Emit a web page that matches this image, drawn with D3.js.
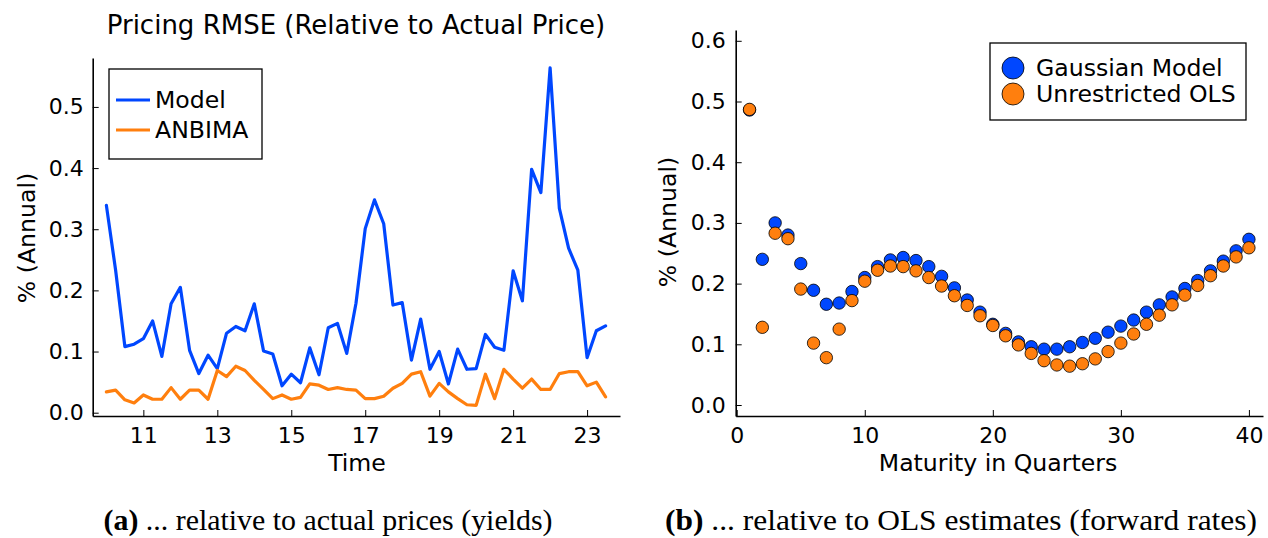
<!DOCTYPE html>
<html>
<head>
<meta charset="utf-8">
<script src="https://cdn.jsdelivr.net/npm/d3@7"></script>
<style>
  html, body { margin: 0; padding: 0; background: #ffffff; }
  svg { display: block; }
  text { font-family: "DejaVu Sans", sans-serif; fill: #000; }
  .caption { font-family: "Liberation Serif", "DejaVu Serif", serif; }
</style>
</head>
<body>
<svg id="fig" width="1268" height="538"></svg>
<script>
// ---- Panel (a): pricing RMSE over time (quarterly, 10.0 .. 23.5) ----
const timeStart = 10.0;
const timeStep = 0.25;
const modelRmse = [
  0.339, 0.233, 0.108, 0.112, 0.121, 0.150, 0.092, 0.178, 0.205, 0.102,
  0.064, 0.094, 0.072, 0.130, 0.141, 0.134, 0.178, 0.101, 0.096, 0.044,
  0.063, 0.049, 0.106, 0.062, 0.139, 0.146, 0.097, 0.179, 0.301, 0.348,
  0.309, 0.176, 0.180, 0.086, 0.153, 0.071, 0.100, 0.047, 0.104, 0.071,
  0.072, 0.128, 0.107, 0.102, 0.232, 0.183, 0.398, 0.360, 0.564, 0.334,
  0.269, 0.233, 0.090, 0.134, 0.142
];
const anbimaRmse = [
  0.034, 0.037, 0.021, 0.016, 0.029, 0.022, 0.022, 0.041, 0.022, 0.037,
  0.037, 0.022, 0.069, 0.059, 0.076, 0.069, 0.053, 0.038, 0.023, 0.029,
  0.022, 0.025, 0.047, 0.045, 0.038, 0.041, 0.038, 0.037, 0.023, 0.023,
  0.027, 0.040, 0.048, 0.063, 0.067, 0.027, 0.048, 0.034, 0.023, 0.013,
  0.012, 0.063, 0.023, 0.071, 0.055, 0.040, 0.055, 0.038, 0.038, 0.064,
  0.067, 0.067, 0.044, 0.050, 0.026
];
const timeTicks = [11, 13, 15, 17, 19, 21, 23];
const rmseTicks = [0.0, 0.1, 0.2, 0.3, 0.4, 0.5];
const seriesA = ["Model", "ANBIMA"];

// ---- Panel (b): forward-rate errors by maturity (quarters 1..40) ----
const maturities = d3.range(1, 41);
const gaussianModel = [
  0.486, 0.240, 0.300, 0.280, 0.233, 0.189, 0.166, 0.168, 0.187, 0.210,
  0.228, 0.239, 0.243, 0.238, 0.228, 0.212, 0.193, 0.173, 0.153, 0.133,
  0.118, 0.104, 0.096, 0.092, 0.092, 0.096, 0.103, 0.110, 0.120, 0.130,
  0.140, 0.153, 0.165, 0.178, 0.192, 0.205, 0.221, 0.237, 0.254, 0.273
];
const unrestrictedOls = [
  0.487, 0.128, 0.283, 0.274, 0.191, 0.102, 0.078, 0.125, 0.172, 0.204,
  0.222, 0.229, 0.228, 0.221, 0.210, 0.196, 0.180, 0.164, 0.147, 0.131,
  0.114, 0.099, 0.085, 0.073, 0.066, 0.064, 0.068, 0.076, 0.088, 0.102,
  0.117, 0.133, 0.148, 0.165, 0.181, 0.197, 0.213, 0.229, 0.244, 0.259
];
const maturityTicks = [0, 10, 20, 30, 40];
const errorTicks = [0.0, 0.1, 0.2, 0.3, 0.4, 0.5, 0.6];
const seriesB = ["Gaussian Model", "Unrestricted OLS"];

const BLUE = "#0047ff";
const ORANGE = "#ff7f0e";
const TICK_FS = 22;   // tick labels
const GUIDE_FS = 23.6; // axis titles and legend entries
const TITLE_FS = 26;

const svg = d3.select("#fig");

function styleAxis(g) {
  g.selectAll("path.domain").attr("stroke", "#000").attr("stroke-width", 1.6);
  g.selectAll(".tick line").attr("stroke", "#000").attr("stroke-width", 1);
  g.selectAll(".tick text")
    .style("font-family", "'DejaVu Sans', sans-serif")
    .style("font-size", TICK_FS + "px")
    .attr("fill", "#000");
}

// ================= Panel (a) =================
{
  const x = d3.scaleLinear().domain([9.63, 23.89]).range([92.7, 620]);
  const y = d3.scaleLinear().domain([-0.0054, 0.58]).range([416, 58]);
  const g = svg.append("g");

  g.append("g").attr("transform", `translate(0,${y.range()[0]})`)
    .call(d3.axisBottom(x).tickValues(timeTicks).tickSize(-6).tickSizeOuter(0)
      .tickPadding(11).tickFormat(d3.format("d")))
    .call(styleAxis);
  g.append("g").attr("transform", `translate(${x.range()[0]},0)`)
    .call(d3.axisLeft(y).tickValues(rmseTicks).tickSize(-6).tickSizeOuter(0)
      .tickPadding(9).tickFormat(d3.format(".1f")))
    .call(styleAxis);

  const t = i => timeStart + i * timeStep;
  const line = d3.line().x((d, i) => x(t(i))).y(d => y(d));
  [[modelRmse, BLUE], [anbimaRmse, ORANGE]].forEach(([vals, c]) => {
    g.append("path").datum(vals).attr("d", line)
      .attr("fill", "none").attr("stroke", c).attr("stroke-width", 3.2)
      .attr("stroke-linejoin", "round").attr("stroke-linecap", "round");
  });

  g.append("text").attr("x", 356).attr("y", 34).attr("text-anchor", "middle")
    .style("font-size", TITLE_FS + "px").text("Pricing RMSE (Relative to Actual Price)");
  g.append("text").attr("x", 357).attr("y", 471).attr("text-anchor", "middle")
    .style("font-size", GUIDE_FS + "px").text("Time");
  g.append("text").attr("transform", "translate(35,238) rotate(-90)")
    .attr("text-anchor", "middle").style("font-size", GUIDE_FS + "px").text("% (Annual)");

  // legend
  const lg = g.append("g");
  lg.append("rect").attr("x", 109).attr("y", 69).attr("width", 153).attr("height", 90)
    .attr("fill", "#fff").attr("stroke", "#000").attr("stroke-width", 1.3);
  seriesA.forEach((name, i) => {
    const yy = 100 + i * 30;
    lg.append("line").attr("x1", 116).attr("x2", 150).attr("y1", yy).attr("y2", yy)
      .attr("stroke", i === 0 ? BLUE : ORANGE).attr("stroke-width", 3.2);
    lg.append("text").attr("x", 155).attr("y", yy).attr("dy", "0.36em")
      .style("font-size", GUIDE_FS + "px").text(name);
  });
}

// ================= Panel (b) =================
{
  const x = d3.scaleLinear().domain([-0.08, 41.1]).range([735.7, 1263]);
  const y = d3.scaleLinear().domain([-0.0181, 0.6178]).range([416, 30]);
  const g = svg.append("g");

  g.append("g").attr("transform", `translate(0,${y.range()[0]})`)
    .call(d3.axisBottom(x).tickValues(maturityTicks).tickSize(-6).tickSizeOuter(0)
      .tickPadding(11).tickFormat(d3.format("d")))
    .call(styleAxis);
  g.append("g").attr("transform", `translate(${x.range()[0]},0)`)
    .call(d3.axisLeft(y).tickValues(errorTicks).tickSize(-6).tickSizeOuter(0)
      .tickPadding(10).tickFormat(d3.format(".1f")))
    .call(styleAxis);

  [[gaussianModel, BLUE], [unrestrictedOls, ORANGE]].forEach(([vals, c]) => {
    g.append("g").selectAll("circle").data(vals).join("circle")
      .attr("cx", (d, i) => x(maturities[i])).attr("cy", d => y(d)).attr("r", 6.2)
      .attr("fill", c).attr("stroke", "#000").attr("stroke-width", 0.8);
  });

  g.append("text").attr("x", 998).attr("y", 471).attr("text-anchor", "middle")
    .style("font-size", GUIDE_FS + "px").text("Maturity in Quarters");
  g.append("text").attr("transform", "translate(676,222) rotate(-90)")
    .attr("text-anchor", "middle").style("font-size", GUIDE_FS + "px").text("% (Annual)");

  const lg = g.append("g");
  lg.append("rect").attr("x", 990).attr("y", 43).attr("width", 256).attr("height", 77)
    .attr("fill", "#fff").attr("stroke", "#000").attr("stroke-width", 1.3);
  seriesB.forEach((name, i) => {
    const yy = 68 + i * 26;
    lg.append("circle").attr("cx", 1013).attr("cy", yy).attr("r", 11)
      .attr("fill", i === 0 ? BLUE : ORANGE).attr("stroke", "#000").attr("stroke-width", 0.8);
    lg.append("text").attr("x", 1036).attr("y", yy).attr("dy", "0.36em")
      .style("font-size", GUIDE_FS + "px").text(name);
  });
}

// ================= Captions =================
function caption(cx, width, label, rest) {
  const t = svg.append("text").attr("class", "caption").attr("x", cx).attr("y", 530)
    .attr("text-anchor", "middle").style("font-size", "29px")
    .attr("textLength", width).attr("lengthAdjust", "spacingAndGlyphs");
  t.append("tspan").style("font-weight", "bold").text(label);
  t.append("tspan").text(" " + rest);
}
caption(328, 449, "(a)", "... relative to actual prices (yields)");
caption(961, 592, "(b)", "... relative to OLS estimates (forward rates)");
</script>
</body>
</html>
